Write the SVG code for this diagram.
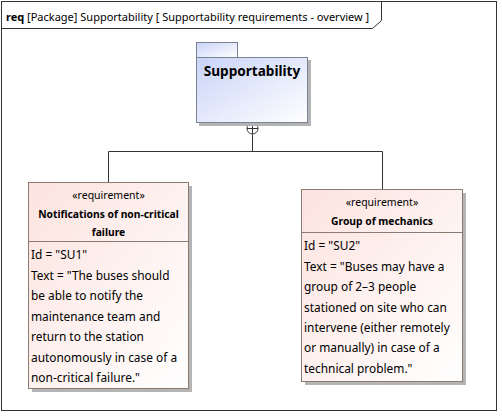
<svg xmlns="http://www.w3.org/2000/svg" width="502" height="416" viewBox="0 0 502 416">
<defs>
<linearGradient id="gPkg" x1="0" y1="0" x2="1" y2="1">
<stop offset="0" stop-color="#c9d3f7"/>
<stop offset="1" stop-color="#ffffff"/>
</linearGradient>
<linearGradient id="gReq" x1="0" y1="0" x2="1" y2="1">
<stop offset="0" stop-color="#fce3df"/>
<stop offset="1" stop-color="#ffffff"/>
</linearGradient>
<style>
text{font-family:"Noto Sans","DejaVu Sans",sans-serif;fill:#000}
.t{font-size:11px}
.st{font-size:10.5px;text-anchor:middle}
.nm{font-size:10.3px;font-weight:bold;text-anchor:middle}
.bd{font-size:11.9px}
.sh{fill:#b4b4b4}
.req{fill:url(#gReq);stroke:#8c7b70;stroke-width:1}
.pkg{fill:url(#gPkg);stroke:#7a8296;stroke-width:1}
.ln{fill:none;stroke:#333;stroke-width:1}
</style>
</defs>
<rect width="502" height="416" fill="#fff"/>
<g id="frame">
<rect x="1.5" y="1.5" width="495" height="409" fill="none" stroke="#333" stroke-width="1"/>
<path d="M1.5 28.5 H372.5 L381.5 20.5 V1.5" fill="none" stroke="#333" stroke-width="1"/>
<text class="t" x="6" y="21"><tspan font-weight="bold">req</tspan> [Package] Supportability [ Supportability requirements - overview ]</text>
</g>
<g id="connectors">
<path class="ln" d="M252.5 134.5 V151.5 M108.5 182 V151.5 H382.5 V189"/>
<circle cx="252.5" cy="128.5" r="5.5" fill="#fff" stroke="#333" stroke-width="1"/>
<path class="ln" d="M247 128.5 H258 M252.5 123 V134"/>
</g>
<g id="pkg-supportability">
<rect class="sh" x="199" y="60" width="112" height="66"/>
<rect class="pkg" x="196.5" y="42.5" width="41" height="15"/>
<rect class="pkg" x="196.5" y="57.5" width="111" height="65"/>
<text x="252" y="76" style="font-size:13.6px;font-weight:bold;text-anchor:middle">Supportability</text>
</g>
<g id="req-su1">
<rect class="sh" x="32" y="186" width="160" height="206"/>
<rect class="req" x="28.5" y="182.5" width="160" height="206"/>
<line x1="28.5" y1="241.5" x2="188.5" y2="241.5" stroke="#8c7b70"/>
<text class="st" x="108.5" y="199">«requirement»</text>
<text class="nm" x="108.5" y="218">Notifications of non-critical</text>
<text class="nm" x="108.5" y="236">failure</text>
<text class="bd" x="31" y="259">Id = "SU1"</text>
<text class="bd" x="31" y="280">Text = "The buses should</text>
<text class="bd" x="31" y="300">be able to notify the</text>
<text class="bd" x="31" y="321">maintenance team and</text>
<text class="bd" x="31" y="341">return to the station</text>
<text class="bd" x="31" y="362">autonomously in case of a</text>
<text class="bd" x="31" y="382">non-critical failure."</text>
</g>
<g id="req-su2">
<rect class="sh" x="305" y="193" width="161" height="192"/>
<rect class="req" x="301.5" y="189.5" width="161" height="192"/>
<line x1="301.5" y1="232.5" x2="462.5" y2="232.5" stroke="#8c7b70"/>
<text class="st" x="382" y="206">«requirement»</text>
<text class="nm" x="382" y="225">Group of mechanics</text>
<text class="bd" x="304" y="250">Id = "SU2"</text>
<text class="bd" x="304" y="271">Text = "Buses may have a</text>
<text class="bd" x="304" y="291">group of 2–3 people</text>
<text class="bd" x="304" y="312">stationed on site who can</text>
<text class="bd" x="304" y="332">intervene (either remotely</text>
<text class="bd" x="304" y="352">or manually) in case of a</text>
<text class="bd" x="304" y="373">technical problem."</text>
</g>
</svg>
